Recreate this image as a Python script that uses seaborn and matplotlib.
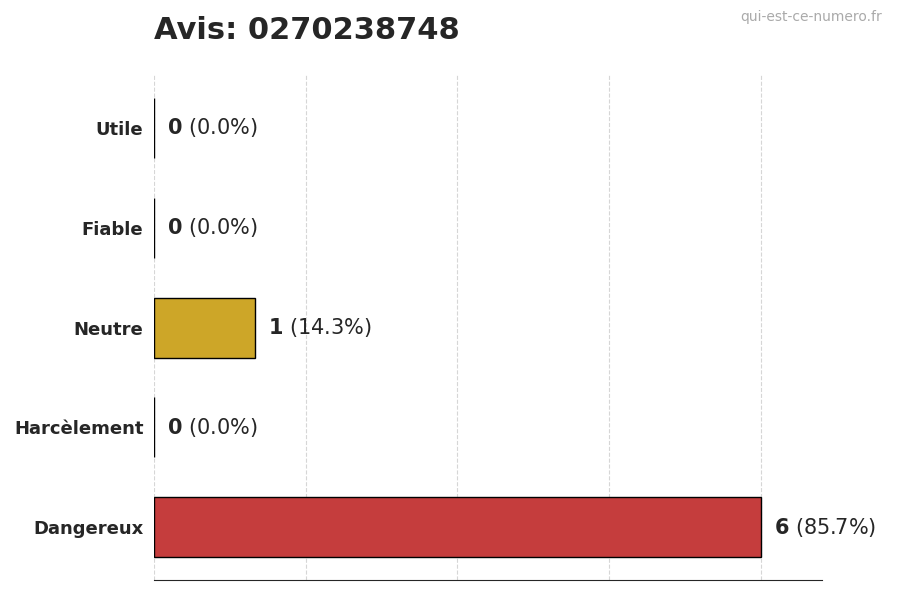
import matplotlib
matplotlib.use("Agg")
import matplotlib.pyplot as plt
import seaborn as sns
import pandas as pd

categories = ["Utile", "Fiable", "Neutre", "Harcèlement", "Dangereux"]
counts = [0, 0, 1, 0, 6]
colors = ["#22A04B", "#3B82F6", "#E9B50C", "#8B5CF6", "#DC2626"]
title = "Avis: 0270238748"
watermark = "qui-est-ce-numero.fr"

sns.set_style("white")
df = pd.DataFrame({"cat": categories, "n": counts})
fig = plt.figure(figsize=(9, 6), dpi=100)
ax = fig.add_axes([0.171, 0.033, 0.742, 0.842])
sns.barplot(data=df, x="n", y="cat", hue="cat", palette=dict(zip(categories, colors)),
            order=categories, orient="h", width=0.6, edgecolor="black", linewidth=1,
            legend=False, ax=ax)
ax.set_xlim(0, 6.6)
ax.set_ylim(4.53, -0.53)
ax.set_xticks([0, 1.5, 3, 4.5, 6])
ax.set_xticklabels([])
ax.tick_params(axis="x", length=5)
ax.tick_params(axis="y", length=4, labelsize=13)
for lab in ax.get_yticklabels():
    lab.set_fontweight("bold")
ax.set_xlabel("")
ax.set_ylabel("")
ax.grid(axis="x", linestyle="--", color="#cccccc", alpha=0.8)
ax.set_axisbelow(True)
for s in ["top", "right"]:
    ax.spines[s].set_visible(False)
ax.spines["left"].set_visible(False)
total = sum(counts)
for i, c in enumerate(counts):
    pct = 100 * c / total
    ax.text(c + 0.13, i, f"$\\bf{{{c}}}$ ({pct:.1f}%)", va="center", fontsize=15)
fig.text(0.171, 0.925, title, fontsize=22, fontweight="bold", ha="left", va="bottom")
fig.text(0.98, 0.96, watermark, fontsize=10, color="#aaaaaa", ha="right", va="bottom")
fig.savefig("out.png", dpi=100)
